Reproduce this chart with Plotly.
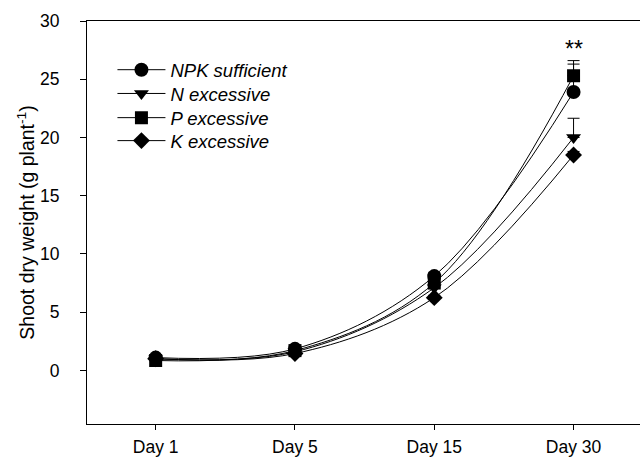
import plotly.graph_objects as go

# Sampling days and shoot dry weight means (g per plant)
days = ["Day 1", "Day 5", "Day 15", "Day 30"]
npk_sufficient = [1.1, 1.85, 8.1, 23.9]
n_excessive = [1.0, 1.6, 7.1, 20.0]
p_excessive = [0.85, 1.7, 7.5, 25.3]
k_excessive = [1.0, 1.45, 6.25, 18.5]

# Upper standard errors
npk_err = [0.1, 0.1, 0.3, 2.4]
n_err = [0.1, 0.1, 0.3, 1.65]
p_err = [0.1, 0.1, 0.3, 1.3]
k_err = [0.1, 0.1, 0.2, 0.3]

y_ticks = [0, 5, 10, 15, 20, 25, 30]
signif_label = "**"
signif_y = 27.6

# name, values, errors, marker symbol, marker size, legend id, legend row y (paper)
series = [
    ("NPK sufficient", npk_sufficient, npk_err, "circle", 14, "legend", 0.878),
    ("N excessive", n_excessive, n_err, "triangle-down", 13, "legend2", 0.819),
    ("P excessive", p_excessive, p_err, "square", 13, "legend3", 0.759),
    ("K excessive", k_excessive, k_err, "diamond", 13, "legend4", 0.702),
]

font_family = "Liberation Sans, Arial, sans-serif"

fig = go.Figure()
legend_layouts = {}
for name, vals, errs, sym, size, leg, leg_y in series:
    fig.add_trace(go.Scatter(
        x=days, y=vals, name=name, mode="lines+markers", legend=leg,
        line=dict(color="black", width=1, shape="spline", smoothing=1.0),
        marker=dict(symbol=sym, size=size, color="black"),
        error_y=dict(type="data", symmetric=False, array=errs,
                     arrayminus=[0] * len(errs), color="black",
                     thickness=1, width=6),
    ))
    legend_layouts[leg] = dict(
        x=0.046, y=leg_y, xanchor="left", yanchor="middle",
        bgcolor="rgba(0,0,0,0)", borderwidth=0,
        font=dict(size=18.5, style="italic"), itemwidth=48,
    )

fig.add_annotation(x=days[-1], y=signif_y, text=signif_label, showarrow=False,
                   font=dict(family=font_family, size=23, color="black"))

fig.update_layout(
    width=640, height=460,
    margin=dict(l=87, r=0, t=21, b=36),
    paper_bgcolor="white", plot_bgcolor="white",
    font=dict(family=font_family, size=17.5, color="black"),
    showlegend=True,
    **legend_layouts,
)
fig.update_xaxes(
    type="category", range=[-0.493, 3.477],
    showline=True, linecolor="black", linewidth=1, mirror=True,
    ticks="outside", ticklen=5, tickcolor="black", showgrid=False,
    zeroline=False, ticklabelstandoff=2,
)
fig.update_yaxes(
    range=[-4.6, 30], tickvals=y_ticks,
    showline=True, linecolor="black", linewidth=1, mirror=False,
    ticks="outside", ticklen=6, tickcolor="black", showgrid=False,
    zeroline=False, ticklabelstandoff=17,
    title=dict(text="Shoot dry weight (g plant<sup>-1</sup>)", standoff=0,
               font=dict(size=19.5)),
)

fig.write_html("out.html")
